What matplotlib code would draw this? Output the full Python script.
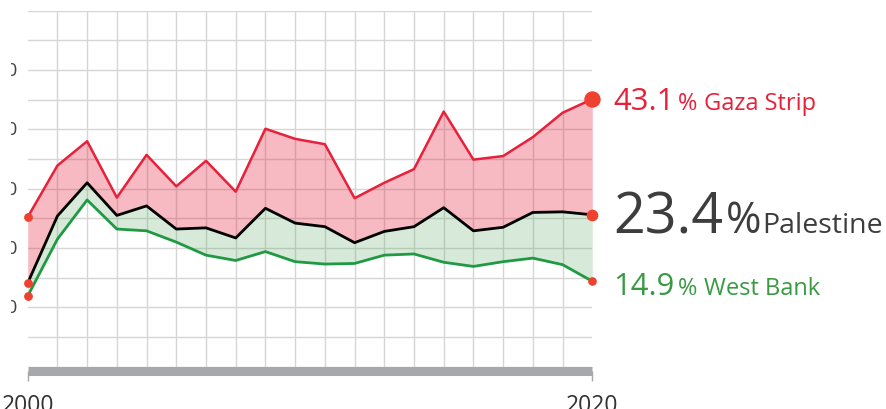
import numpy as np
import matplotlib.pyplot as plt
from matplotlib.transforms import Bbox, TransformedBbox

plt.rcParams['font.family'] = ['Open Sans', 'DejaVu Sans']

# data
years = list(range(20))
gaza = [25.2, 33.9, 38.0, 28.5, 35.7, 30.4, 34.7, 29.5, 40.1, 38.4,
        37.5, 28.4, 31.0, 33.3, 43.0, 34.9, 35.5, 38.7, 42.8, 45.1]
palestine = [14.1, 25.4, 31.0, 25.5, 27.1, 23.2, 23.4, 21.7, 26.7, 24.2,
             23.6, 20.9, 22.8, 23.6, 26.8, 22.9, 23.5, 26.0, 26.1, 25.6]
west_bank = [11.9, 21.5, 28.1, 23.2, 22.9, 21.0, 18.8, 17.9, 19.4, 17.7,
             17.3, 17.4, 18.8, 19.0, 17.6, 16.9, 17.7, 18.3, 17.2, 14.4]
x_ticks = [0, 19]
x_labels = ['2000', '2020']
y_ticks = [10, 20, 30, 40, 50]
labels = [('43.1', 'Gaza Strip'), ('23.4', 'Palestine'), ('14.9', 'West Bank')]

RED = '#e8203a'
GREEN = '#1f9a43'
DOT = '#ee4130'
W, H = 886, 410

fig = plt.figure(figsize=(W / 100, H / 100), dpi=100)
ax = fig.add_axes([27.7 / W, 1 - 367.7 / H, (592.3 - 27.7) / W, (367.7 - 11.7) / H])

x = np.array(years)
ax.fill_between(x, gaza, palestine, color=RED, alpha=0.31, lw=0, zorder=1)
ax.fill_between(x, palestine, west_bank, color='#3a9a44', alpha=0.2, lw=0, zorder=1)
ax.plot(x, gaza, color=RED, lw=1.8, zorder=3)
ax.plot(x, west_bank, color=GREEN, lw=2.0, zorder=3)
ax.plot(x, palestine, color='black', lw=2.0, zorder=4)

# start and end dots
for s in (gaza, palestine, west_bank):
    ax.plot(x[0], s[0], 'o', color=DOT, ms=5.3, zorder=5, clip_on=False)
for s, ms in ((gaza, 10.8), (palestine, 7.4), (west_bank, 5.2)):
    ax.plot(x[-1], s[-1], 'o', color=DOT, ms=ms, zorder=5, clip_on=False)

ax.set_xlim(0, 19)
ax.set_ylim(0, 60)
ax.set_xticks(np.arange(20), minor=True)
ax.set_yticks(np.arange(0, 61, 5), minor=True)
ax.grid(which='minor', color='#d6d6d6', lw=1.0, zorder=0)
ax.set_axisbelow(True)
ax.set_yticks([])
ax.set_xticks(x_ticks, x_labels)
ax.tick_params(axis='x', which='major', length=7.5, width=1, color='#a7a8ac', pad=8,
               labelsize=16.5, labelcolor='#333333')
ax.tick_params(axis='both', which='minor', length=0)

for side in ('top', 'right', 'left'):
    ax.spines[side].set_visible(False)
ax.spines['bottom'].set_color('#a7a8ac')
ax.spines['bottom'].set_linewidth(6.5)
ax.spines['bottom'].set_capstyle('butt')
ax.spines['bottom'].set_position(('outward', 3.3))

# y labels, cut by the left edge like in the picture
clip = TransformedBbox(Bbox([[10.5 / W, 0], [1, 1]]), fig.transFigure)
for v in y_ticks:
    t = ax.text(-10 / (592.3 - 27.7), v, str(v), transform=ax.get_yaxis_transform(),
                ha='right', va='center', fontsize=14, color='#444444')
    t.set_clip_box(clip)
    t.set_clip_on(True)

# right hand labels
def ftext(px, py, s, **kw):
    fig.text(px / W, 1 - py / H, s, va='baseline', **kw)

ftext(613, 110, labels[0][0], fontsize=22.3, color=RED)
ftext(678, 110, '%', fontsize=17, color=RED)
ftext(704, 110, labels[0][1], fontsize=17, color=RED)

ftext(613, 233.5, labels[1][0], fontsize=40, color='#3d3d3d')
ftext(726, 233.5, '%', fontsize=31, color='#3d3d3d')
ftext(762, 233.5, labels[1][1], fontsize=20.5, color='#3d3d3d')

ftext(613, 295, labels[2][0], fontsize=22.3, color='#3a9a44')
ftext(678, 295, '%', fontsize=17, color='#3a9a44')
ftext(704, 295, labels[2][1], fontsize=17, color='#3a9a44')

fig.savefig('out.png', dpi=100)
